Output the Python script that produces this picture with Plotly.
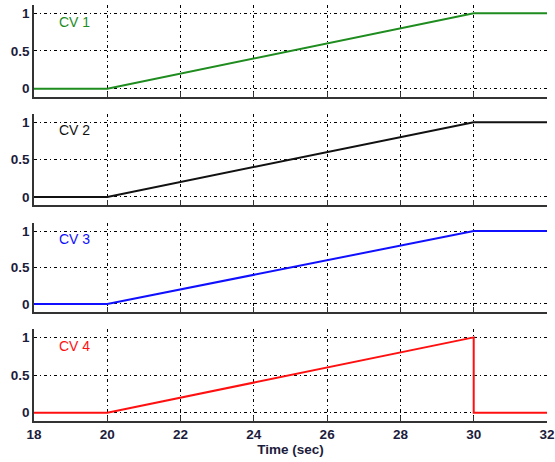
import plotly.graph_objects as go

time_std = [18, 20, 30, 32]
cv1 = [0, 0, 1, 1]
cv2 = [0, 0, 1, 1]
cv3 = [0, 0, 1, 1]
time_cv4 = [18, 20, 30, 30, 32]
cv4 = [0, 0, 1, 0, 0]

labels = ["CV 1", "CV 2", "CV 3", "CV 4"]
colors = ["#1e8c1e", "#111111", "#1010ff", "#ff1010"]
series = [(time_std, cv1), (time_std, cv2), (time_std, cv3), (time_cv4, cv4)]

x_ticks = [18, 20, 22, 24, 26, 28, 30, 32]
y_ticks = [0, 0.5, 1]
y_ticktext = ["<b>0</b>", "<b>0.5</b>", "<b>1</b>"]
x_ticktext = [f"<b>{v}</b>" for v in x_ticks]

domains = [[0.779, 1.0], [0.519, 0.738], [0.262, 0.476], [0.0, 0.221]]

fig = go.Figure()
grid_dash = "3px,3px,1px,3px"
tick_font = dict(family="Liberation Sans, Arial", size=13.5, color="#1c1c3c")

for i, ((xs, ys), lab, col) in enumerate(zip(series, labels, colors)):
    n = i + 1
    xa = "x" if n == 1 else f"x{n}"
    ya = "y" if n == 1 else f"y{n}"
    fig.add_trace(go.Scatter(x=xs, y=ys, mode="lines", line=dict(color=col, width=2),
                             xaxis=xa, yaxis=ya, showlegend=False))
    fig.add_annotation(x=18.62, y=0.89, xref=xa, yref=ya, text=lab, showarrow=False,
                       xanchor="left", yanchor="middle",
                       font=dict(family="Liberation Sans, Arial", size=14, color=col))
    xkey = "xaxis" if n == 1 else f"xaxis{n}"
    ykey = "yaxis" if n == 1 else f"yaxis{n}"
    fig.update_layout({
        xkey: dict(range=[18, 32], tickvals=x_ticks, ticktext=x_ticktext,
                   showticklabels=(n == 4),
                   anchor=ya, domain=[0, 1], automargin=False,
                   showgrid=True, gridcolor="black", gridwidth=1, griddash=grid_dash,
                   showline=True, linecolor="#333333", linewidth=1.5,
                   ticks="inside", ticklen=5, tickcolor="#333333",
                   zeroline=False, tickfont=tick_font,
                   matches="x" if n != 1 else None),
        ykey: dict(range=[-0.11, 1.11], tickvals=y_ticks, ticktext=y_ticktext,
                   domain=domains[i], anchor=xa, automargin=False,
                   showgrid=True, gridcolor="black", gridwidth=1, griddash=grid_dash,
                   showline=True, linecolor="#333333", linewidth=1.5,
                   ticks="", zeroline=False, tickfont=tick_font),
    })

fig.update_layout(
    xaxis4=dict(title=dict(text="<b>Time (sec)</b>",
                           font=dict(family="Liberation Sans, Arial", size=13.5, color="#1c1c3c"),
                           standoff=3)),
    width=555, height=462,
    margin=dict(l=34, r=8, t=5, b=41),
    plot_bgcolor="white", paper_bgcolor="white",
)

fig.write_html("out.html")
